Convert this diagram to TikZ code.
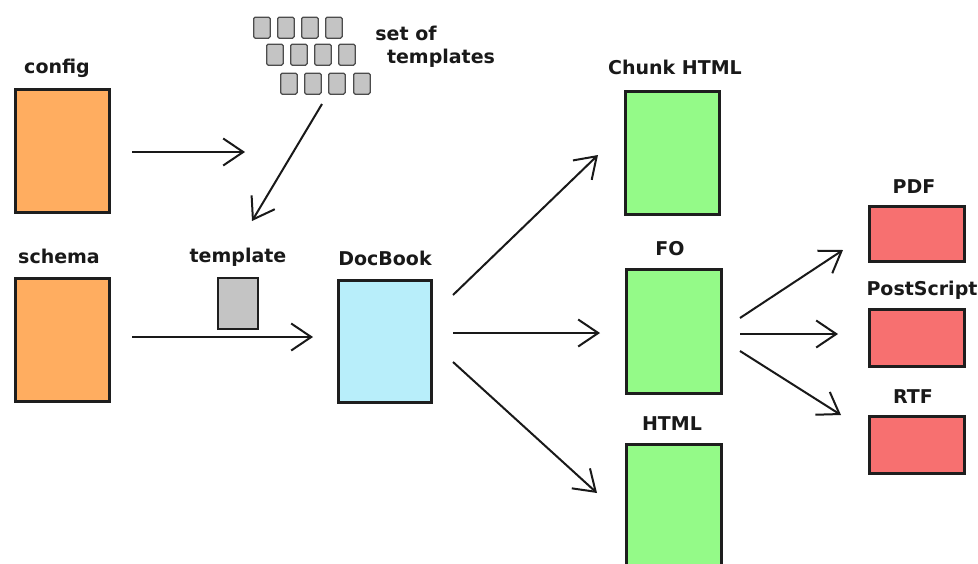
\documentclass[tikz,border=0pt]{standalone}
\usepackage{fontspec}
\setmainfont{DejaVu Sans}
\usetikzlibrary{arrows.meta}
\definecolor{boxline}{HTML}{1E1E1E}
\definecolor{orangebox}{HTML}{FFAD60}
\definecolor{cyanbox}{HTML}{B8EEFA}
\definecolor{greenbox}{HTML}{94FA88}
\definecolor{redbox}{HTML}{F77070}
\definecolor{tplgrey}{HTML}{C4C4C4}
\begin{document}
\begin{tikzpicture}[x=1pt,y=-1pt,
  box/.style={draw=boxline, line width=2.5pt, inner sep=0pt, anchor=north west},
  lbl/.style={font=\bfseries\fontsize{19}{19}\selectfont, anchor=base, inner sep=0pt, text=black!90},
  arr/.style={line width=2pt, draw=black!90, -{Straight Barb[length=20pt,width=27pt]}},
  tpl/.style={draw=gray!60!black, fill=tplgrey, line width=1.3pt, rounded corners=1.5pt,
              minimum width=16.5pt, minimum height=21pt, inner sep=0pt, anchor=north west}]
\useasboundingbox[fill=white] (0,0) rectangle (978,563);

% main boxes
\node[box, fill=orangebox, minimum width=94pt, minimum height=123pt] (config) at (14,88) {};
\node[box, fill=orangebox, minimum width=94pt, minimum height=123pt] (schema) at (14,277) {};
\node[box, fill=tplgrey, line width=2pt, minimum width=40pt, minimum height=51pt] (template) at (217,277) {};
\node[box, fill=cyanbox, minimum width=93pt, minimum height=122pt] (docbook) at (337,279) {};
\node[box, fill=greenbox, minimum width=94pt, minimum height=123pt] (chunk) at (624,90) {};
\node[box, fill=greenbox, minimum width=95pt, minimum height=124pt] (fo) at (625,268) {};
\node[box, fill=greenbox, minimum width=95pt, minimum height=130pt] (html) at (625,443) {};
\node[box, fill=redbox, minimum width=95pt, minimum height=55pt] (pdf) at (868,205) {};
\node[box, fill=redbox, minimum width=95pt, minimum height=57pt] (ps) at (868,308) {};
\node[box, fill=redbox, minimum width=95pt, minimum height=57pt] (rtf) at (868,415) {};

% set of templates
\foreach \x [count=\i] in {253,277,301,325} \node[tpl] (ta\i) at (\x,16.5) {};
\foreach \x [count=\i] in {266,290,314,338} \node[tpl] (tb\i) at (\x,43.5) {};
\foreach \x [count=\i] in {280,304,328,353} \node[tpl] (tc\i) at (\x,72.5) {};

% labels
\node[lbl] (lconfig) at (57,73) {config};
\node[lbl] (lschema) at (59,263) {schema};
\node[lbl] (ltemplate) at (238,262) {template};
\node[lbl] (ldocbook) at (385,265) {DocBook};
\node[lbl] (lchunk) at (675,74) {Chunk HTML};
\node[lbl] (lfo) at (670,255) {FO};
\node[lbl] (lhtml) at (672,430) {HTML};
\node[lbl] (lpdf) at (914,193) {PDF};
\node[lbl] (lps) at (922,295) {PostScript};
\node[lbl] (lrtf) at (913,403) {RTF};
\node[lbl] (lset1) at (406,40) {set of};
\node[lbl] (lset2) at (441,63) {templates};

% arrow end points
\coordinate (c1) at (132,152);  \coordinate (c2) at (245,152);
\coordinate (s1) at (132,337);  \coordinate (s2) at (313,337);
\coordinate (t1) at (322,104);  \coordinate (t2) at (252,221);
\coordinate (d0) at (453,295);  \coordinate (d0e) at (598,155);
\coordinate (d1) at (453,333);  \coordinate (d1e) at (600,333);
\coordinate (d2) at (453,362);  \coordinate (d2e) at (597,493);
\coordinate (f0) at (740,318);  \coordinate (f0e) at (843,250);
\coordinate (f1) at (740,334);  \coordinate (f1e) at (838,334);
\coordinate (f2) at (740,351);  \coordinate (f2e) at (841,415);

\draw[arr] (c1) -- (c2);
\draw[arr] (s1) -- (s2);
\draw[arr] (t1) -- (t2);
\draw[arr] (d0) -- (d0e);
\draw[arr] (d1) -- (d1e);
\draw[arr] (d2) -- (d2e);
\draw[arr] (f0) -- (f0e);
\draw[arr] (f1) -- (f1e);
\draw[arr] (f2) -- (f2e);
\end{tikzpicture}
\end{document}
